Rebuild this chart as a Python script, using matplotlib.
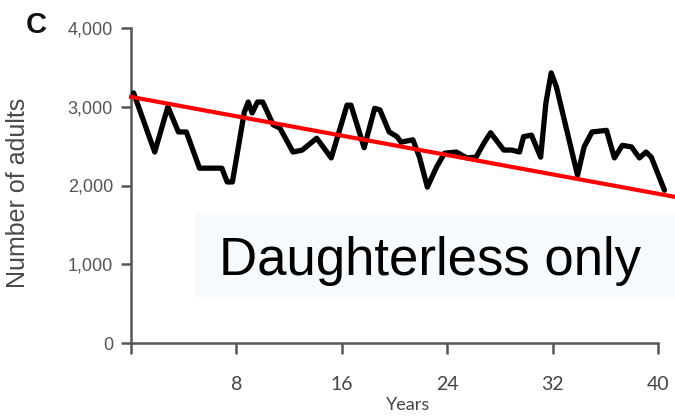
import matplotlib
matplotlib.use("Agg")
import matplotlib.pyplot as plt
from matplotlib.patches import Rectangle

# ---- data ----
years = [0.2, 1.8, 2.8, 3.6, 4.2, 5.2, 6.9, 7.3, 7.7, 8.6, 8.9, 9.2, 9.6, 10.0,
         10.8, 11.3, 12.3, 13.0, 14.1, 15.2, 16.4, 16.7, 17.7, 18.5, 18.9, 19.6,
         20.2, 20.5, 21.4, 21.9, 22.5, 23.2, 23.8, 24.7, 25.5, 26.2, 26.8, 27.3,
         28.3, 28.9, 29.5, 29.8, 30.4, 31.1, 31.5, 31.9, 32.3, 33.9, 34.4, 35.0,
         36.1, 36.7, 37.3, 38.0, 38.6, 39.1, 39.5, 40.5]
adults = [3175, 2425, 3000, 2680, 2680, 2220, 2220, 2045, 2045, 2930, 3060, 2920,
          3060, 3060, 2770, 2730, 2425, 2450, 2600, 2350, 3020, 3020, 2480, 2980,
          2960, 2680, 2620, 2550, 2580, 2360, 1980, 2235, 2410, 2425, 2350, 2360,
          2540, 2670, 2450, 2450, 2425, 2620, 2640, 2360, 3050, 3430, 3250, 2130,
          2490, 2680, 2700, 2350, 2510, 2490, 2350, 2425, 2360, 1940]
trend_years = [0.0, 41.3]
trend_values = [3125, 1855]

x_ticks = [0, 8, 16, 24, 32, 40]
x_tick_labels = ["", "8", "16", "24", "32", "40"]
y_ticks = [0, 1000, 2000, 3000, 4000]
y_tick_labels = ["0", "1,000", "2,000", "3,000", "4,000"]

W, H = 675, 420
fig = plt.figure(figsize=(W / 100, H / 100), dpi=100)
fig.patch.set_facecolor("white")

left, bottom, top = 131, 343, 28
ax = fig.add_axes([left / W, 1 - bottom / H, 1 - left / W, (bottom - top) / H])
ax.set_xlim(0, 41.3)
ax.set_ylim(0, 4000)
ax.patch.set_alpha(0)

axis_col = "#555555"
for s in ["top", "right"]:
    ax.spines[s].set_visible(False)
for s in ["left", "bottom"]:
    ax.spines[s].set_color(axis_col)
    ax.spines[s].set_linewidth(1.8)
ax.spines["left"].set_bounds(0, 4000)
ax.spines["bottom"].set_bounds(0, 40)

ax.set_xticks(x_ticks)
ax.set_xticklabels(x_tick_labels, family=["Lato", "DejaVu Sans"], fontsize=14, color="#444444")
ax.set_yticks(y_ticks)
ax.set_yticklabels(y_tick_labels, family=["Liberation Sans", "DejaVu Sans"], fontsize=13, color="#555555")
ax.tick_params(axis="x", direction="out", length=8, width=1.8, color=axis_col, pad=16)
ax.tick_params(axis="y", direction="out", length=7, width=1.8, color=axis_col, pad=6)

ax.set_xlabel("Years", family=["Lato", "DejaVu Sans"], fontsize=13, color="#444444", labelpad=0)
ax.xaxis.set_label_coords((408 - left) / (W - left), -(405 - bottom) / (bottom - top), transform=ax.transAxes)
ax.xaxis.label.set_verticalalignment("center")
ax.set_ylabel("Number of adults", family=["Liberation Sans", "DejaVu Sans"], fontsize=18, color="#4a4a4a")
ax.yaxis.set_label_coords(-(left - 30) / (W - left), (bottom - 193) / (bottom - top), transform=ax.transAxes)

# background box behind the annotation
fig.patches.append(Rectangle((195 / W, 1 - 297 / H), (W - 195) / W, (297 - 213) / H,
                             transform=fig.transFigure, facecolor="#f6fafd",
                             edgecolor="none", zorder=0))

ax.plot(years, adults, color="black", lw=3.8, solid_joinstyle="round",
        solid_capstyle="round", zorder=3, clip_on=False)
ax.plot(trend_years, trend_values, color="#ff0000", lw=3.0, zorder=4, clip_on=False)

fig.text(430 / W, 1 - 275 / H, "Daughterless only", family=["Liberation Sans", "DejaVu Sans"],
         fontsize=38, color="black", ha="center", va="baseline")
fig.text(36 / W, 1 - 25 / H, "C", family=["Liberation Sans", "DejaVu Sans"],
         fontsize=21, fontweight="bold", color="#111111", ha="center", va="center")

fig.savefig("out.png", dpi=100)
